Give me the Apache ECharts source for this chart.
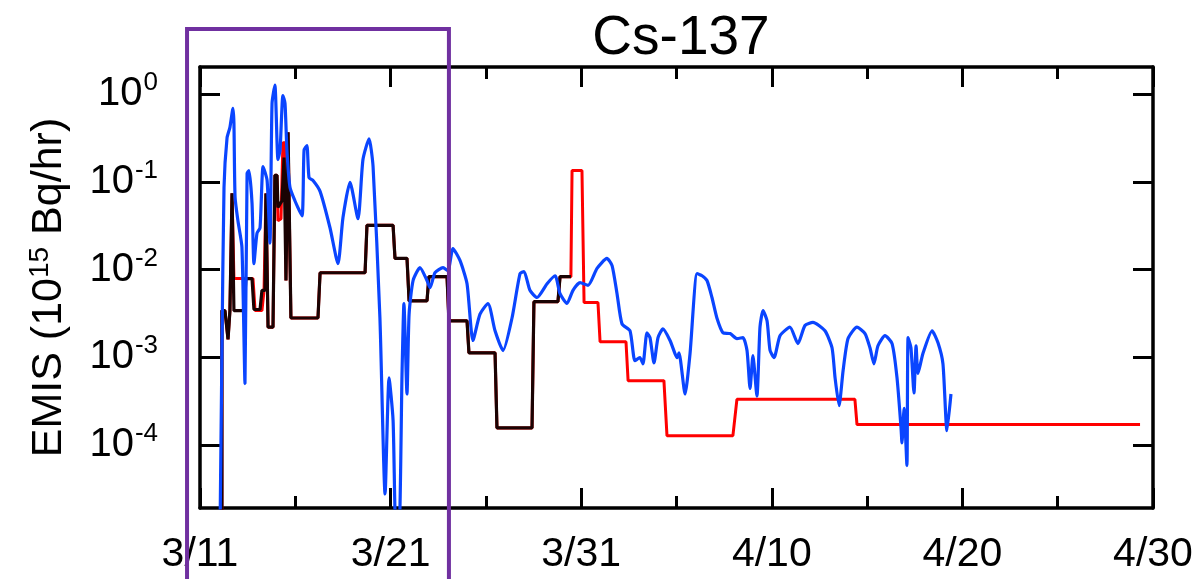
<!DOCTYPE html>
<html>
<head>
<meta charset="utf-8">
<title>Cs-137</title>
<script src="https://cdn.jsdelivr.net/npm/echarts@6/dist/echarts.min.js"></script>
<style>
html, body { margin: 0; padding: 0; background: #fff; }
#chart { width: 1196px; height: 579px; }
</style>
</head>
<body>
<div id="chart"></div>
<script>
// x = days counted from 3/11 00:00, y = emission in 10^15 Bq/hr
const tickLabels = ['3/11', '3/21', '3/31', '4/10', '4/20', '4/30']
const yTicks = [1e-4, 1e-3, 1e-2, 1e-1, 1]
const boxDays = [-0.68, 13.06] // purple highlight box

const redPoints = [
  [1.15, 1e-5], [1.15, 0.0034], [1.31, 0.0034], [1.47, 0.0016], [1.57, 0.0034],
  [1.68, 0.074], [1.73, 0.074], [1.78, 0.0079], [2.78, 0.0079], [2.89, 0.0034],
  [3.25, 0.0034], [3.36, 0.0058], [3.41, 0.0058], [3.46, 0.074], [3.52, 0.074],
  [3.57, 0.0022], [3.83, 0.0022], [3.93, 0.119], [4.04, 0.119], [4.09, 0.036],
  [4.25, 0.038], [4.35, 0.28], [4.46, 0.28], [4.51, 0.0075], [4.56, 0.0075],
  [4.62, 0.37], [4.72, 0.37], [4.77, 0.0028], [6.19, 0.0028], [6.30, 0.0092],
  [8.66, 0.0092], [8.76, 0.032], [10.13, 0.032], [10.23, 0.0134], [10.86, 0.0134],
  [10.97, 0.0044], [11.91, 0.0044], [12.01, 0.0083], [12.96, 0.0083], [13.06, 0.0026],
  [14.01, 0.0026], [14.11, 0.00112], [15.48, 0.00112], [15.58, 0.000156], [17.42, 0.000156],
  [17.52, 0.0043], [18.78, 0.0043], [18.89, 0.0083], [19.46, 0.0083], [19.52, 0.135],
  [20.04, 0.135], [20.15, 0.0042], [20.88, 0.0042], [20.99, 0.0015], [22.35, 0.0015],
  [22.46, 0.00054], [24.34, 0.00054], [24.50, 0.000127], [27.96, 0.000127], [28.17, 0.00033],
  [34.36, 0.00033], [34.47, 0.00017], [49.32, 0.00017]
]

const blackPoints = [
  [1.15, 1e-5], [1.15, 0.0034], [1.31, 0.0034], [1.47, 0.0016], [1.57, 0.0034],
  [1.68, 0.074], [1.73, 0.074], [1.78, 0.0034], [2.31, 0.0034], [2.41, 0.0079],
  [2.73, 0.0079], [2.83, 0.0035], [3.15, 0.0035], [3.25, 0.0058], [3.41, 0.0058],
  [3.46, 0.074], [3.52, 0.074], [3.57, 0.0022], [3.83, 0.0022], [3.93, 0.119],
  [4.04, 0.119], [4.09, 0.051], [4.30, 0.061], [4.41, 0.19], [4.46, 0.19],
  [4.51, 0.0075], [4.56, 0.0075], [4.62, 0.37], [4.72, 0.37], [4.77, 0.0028],
  [6.19, 0.0028], [6.30, 0.0092], [8.66, 0.0092], [8.76, 0.032], [10.13, 0.032],
  [10.23, 0.0134], [10.86, 0.0134], [10.97, 0.0044], [11.91, 0.0044], [12.01, 0.0083],
  [12.96, 0.0083], [13.06, 0.0026], [14.01, 0.0026], [14.11, 0.00112], [15.48, 0.00112],
  [15.58, 0.000156], [17.42, 0.000156], [17.52, 0.0043], [18.78, 0.0043], [18.89, 0.0083],
  [19.46, 0.0083]
]

const bluePoints = [
  [1.05, 1e-5], [1.15, 0.0011], [1.26, 0.087], [1.42, 0.32], [1.57, 0.42],
  [1.73, 0.69], [1.78, 0.47], [1.84, 0.067], [1.99, 0.036], [2.20, 0.018],
  [2.36, 0.0005], [2.47, 0.125], [2.57, 0.135], [2.73, 0.057], [2.83, 0.0117],
  [2.99, 0.026], [3.15, 0.030], [3.31, 0.15], [3.52, 0.104], [3.67, 0.020],
  [3.78, 0.79], [3.93, 1.27], [4.09, 0.18], [4.20, 0.23], [4.35, 0.97],
  [4.46, 0.79], [4.56, 0.23], [4.72, 0.087], [4.98, 0.061], [5.35, 0.041],
  [5.46, 0.23], [5.61, 0.26], [5.72, 0.112], [5.93, 0.104], [6.30, 0.078],
  [6.82, 0.030], [7.24, 0.0117], [7.50, 0.039], [7.87, 0.099], [8.29, 0.038],
  [8.55, 0.18], [8.87, 0.31], [9.08, 0.15], [9.44, 0.0028], [9.71, 0.0000275],
  [9.92, 0.00058], [10.13, 0.00019], [10.28, 1e-5], [10.44, 1e-5], [10.60, 0.00065],
  [10.70, 0.0041], [10.86, 0.00038], [10.97, 0.0031], [11.18, 0.0075], [11.54, 0.0105],
  [11.91, 0.0075], [12.07, 0.0062], [12.33, 0.0092], [12.75, 0.0105], [13.01, 0.0097],
  [13.27, 0.0174], [13.64, 0.0127], [14.01, 0.0069], [14.32, 0.00155], [14.69, 0.0031],
  [15.11, 0.0041], [15.48, 0.0020], [15.90, 0.00119], [16.37, 0.0028], [16.79, 0.0090],
  [17.00, 0.0095], [17.31, 0.0058], [17.68, 0.0048], [18.21, 0.0069], [18.63, 0.0085],
  [18.89, 0.0053], [19.25, 0.0041], [19.57, 0.0058], [19.94, 0.0071], [20.36, 0.0066],
  [20.83, 0.0103], [21.35, 0.0134], [21.62, 0.0111], [21.88, 0.0053], [22.14, 0.0024],
  [22.56, 0.0020], [22.82, 0.00091], [23.08, 0.00099], [23.24, 0.00084], [23.45, 0.0019],
  [23.61, 0.00167], [23.82, 0.00086], [24.03, 0.00167], [24.29, 0.0021], [24.66, 0.00155],
  [24.92, 0.0011], [25.03, 0.00099], [25.13, 0.00112], [25.45, 0.00038], [25.71, 0.0011],
  [26.08, 0.0090], [26.34, 0.0085], [26.60, 0.0075], [26.86, 0.0048], [27.12, 0.0028],
  [27.44, 0.0019], [27.81, 0.00186], [28.17, 0.00163], [28.49, 0.00167], [28.70, 0.00119],
  [28.86, 0.00044], [29.01, 0.00104], [29.22, 0.00036], [29.38, 0.0022], [29.54, 0.0034],
  [29.75, 0.0026], [29.91, 0.00119], [30.12, 0.00099], [30.43, 0.00176], [30.95, 0.0022],
  [31.37, 0.00143], [31.74, 0.0023], [32.16, 0.0025], [32.79, 0.0020], [33.16, 0.00128],
  [33.32, 0.00058], [33.53, 0.00028], [33.74, 0.00070], [34.00, 0.00163], [34.47, 0.0022],
  [34.89, 0.00186], [35.15, 0.00128], [35.36, 0.00084], [35.57, 0.00135], [35.94, 0.00176],
  [36.31, 0.00143], [36.57, 0.00058], [36.78, 0.000156], [36.83, 0.000105], [36.94, 0.00026],
  [37.09, 0.000058], [37.15, 0.00167], [37.30, 0.00128], [37.46, 0.00039], [37.57, 0.00135],
  [37.67, 0.00065], [37.93, 0.0011], [38.41, 0.0020], [38.72, 0.00146], [38.98, 0.00084],
  [39.19, 0.000145], [39.40, 0.00038]
]

const font = 'Liberation Sans, Arial, sans-serif'

function xAxisOf(position, showLabel) {
  return {
    type: 'value',
    position: position,
    min: 0,
    max: 50,
    interval: 10,
    axisLine: { onZero: false, lineStyle: { color: '#000', width: 3.5 } },
    axisTick: { inside: true, length: 20, lineStyle: { color: '#000', width: 3 } },
    minorTick: { show: true, splitNumber: 2, length: 12, lineStyle: { color: '#000', width: 3 } },
    splitLine: { show: false },
    minorSplitLine: { show: false },
    axisLabel: {
      show: showLabel,
      margin: 26,
      fontSize: 41,
      fontFamily: font,
      color: '#000',
      formatter: v => tickLabels[Math.round(v / 10)]
    }
  }
}

function yAxisOf(position, showLabel) {
  return {
    type: 'log',
    logBase: 10,
    position: position,
    min: 1.9e-5,
    max: 2.05,
    axisLine: { onZero: false, lineStyle: { color: '#000', width: 3.5 } },
    axisTick: { inside: true, length: 20, customValues: yTicks, lineStyle: { color: '#000', width: 3 } },
    splitLine: { show: false },
    minorTick: { show: false },
    axisLabel: {
      show: showLabel,
      customValues: yTicks,
      margin: 42,
      fontSize: 40,
      fontFamily: font,
      color: '#000',
      formatter: v => '10{sup|' + Math.round(Math.log10(v)) + '}',
      rich: {
        sup: { fontSize: 26, fontFamily: font, color: '#000', verticalAlign: 'top', padding: [0, 0, 22, 1] }
      }
    }
  }
}

const leftAxis = yAxisOf('left', true)
leftAxis.name = 'EMIS (10{sup|15} Bq/hr)'
leftAxis.nameLocation = 'middle'
leftAxis.nameGap = 128
leftAxis.nameTextStyle = {
  fontSize: 43,
  fontFamily: font,
  color: '#000',
  rich: { sup: { fontSize: 28, fontFamily: font, color: '#000', verticalAlign: 'top', padding: [0, 0, 18, 0] } }
}

const option = {
  animation: false,
  backgroundColor: '#fff',
  title: {
    text: 'Cs-137',
    left: 676,
    textAlign: 'center',
    top: 6,
    textStyle: { fontSize: 55, fontWeight: 'normal', fontFamily: font, color: '#000' }
  },
  grid: { left: 200, right: 43, top: 67, bottom: 71 },
  xAxis: [xAxisOf('bottom', true), xAxisOf('top', false)],
  yAxis: [leftAxis, yAxisOf('right', false)],
  series: [
    {
      name: 'red',
      type: 'line',
      data: redPoints,
      symbol: 'none',
      lineStyle: { color: '#ff0000', width: 3 },
      z: 2
    },
    {
      name: 'black',
      type: 'line',
      data: blackPoints,
      symbol: 'none',
      lineStyle: { color: '#1a0303', width: 3.2 },
      z: 3
    },
    {
      name: 'blue',
      type: 'line',
      data: bluePoints,
      symbol: 'none',
      smooth: 0.2,
      lineStyle: { color: '#0a45ff', width: 3.2 },
      z: 4
    }
  ]
}

const chart = echarts.init(document.getElementById('chart'))
chart.setOption(option)

// highlight box drawn from the x scale, reaching above the plot and below the labels
const bx0 = chart.convertToPixel({ xAxisIndex: 0 }, boxDays[0])
const bx1 = chart.convertToPixel({ xAxisIndex: 0 }, boxDays[1])
chart.setOption({
  graphic: [{
    type: 'rect',
    z: 100,
    shape: { x: bx0, y: 29, width: bx1 - bx0, height: 600 },
    style: { fill: 'none', stroke: '#7030a0', lineWidth: 4 }
  }]
})
</script>
</body>
</html>
